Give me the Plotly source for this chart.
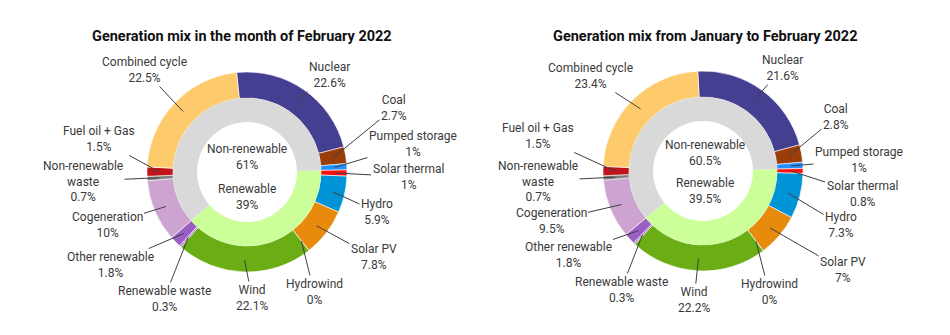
import math
import plotly.graph_objects as go

W, H = 950, 335

# ---------------- data ----------------
categories = ["Nuclear", "Coal", "Pumped storage", "Solar thermal", "Hydro", "Solar PV",
              "Hydrowind", "Wind", "Renewable waste", "Other renewable", "Cogeneration",
              "Non-renewable waste", "Fuel oil + Gas", "Combined cycle"]
label_text = ["Nuclear", "Coal", "Pumped storage", "Solar thermal", "Hydro", "Solar PV",
              "Hydrowind", "Wind", "Renewable waste", "Other renewable", "Cogeneration",
              "Non-renewable<br>waste", "Fuel oil + Gas", "Combined cycle"]
feb_values = [22.6, 2.7, 1, 1, 5.9, 7.8, 0, 22.1, 0.3, 1.8, 10, 0.7, 1.5, 22.5]
jan_feb_values = [21.6, 2.8, 1, 0.8, 7.3, 7, 0, 22.2, 0.3, 1.8, 9.5, 0.7, 1.5, 23.4]

group_labels = ["Renewable", "Non-renewable"]
feb_groups = [39, 61]
jan_feb_groups = [39.5, 60.5]

titles = ["Generation mix in the month of February 2022",
          "Generation mix from January to February 2022"]

# ---------------- styles ----------------
colors = ["#453f91", "#993d0b", "#1e90ff", "#ff1010", "#0093d6", "#e88a0c",
          "#33cccc", "#6aad14", "#b07ad6", "#9b5fc4", "#cda3cf",
          "#7f7f7f", "#c0141c", "#fdcb6b"]
group_colors = ["#ccff99", "#d9d9d9"]

FONT = "Roboto, sans-serif"
TXT = "#3a3a3a"

R_OUT, R_MID, R_HOLE, R_TIP = 100, 74, 50, 88

charts = [
    dict(cx=247, cy=172, rot=-6, values=feb_values, groups=feb_groups, title=titles[0],
         title_pos=(242, 36), center_pos=[(247, 197), (247, 157)],
         label_pos=[(329, 75), (394, 108), (413, 144), (408, 177), (377, 212), (374, 257),
                    (314, 292), (252, 298), (164, 299), (110, 265), (107, 225),
                    (83, 181), (99, 139), (144, 70)]),
    dict(cx=703, cy=171, rot=-3, values=jan_feb_values, groups=jan_feb_groups, title=titles[1],
         title_pos=(705, 36), center_pos=[(705, 191), (705, 153)],
         label_pos=[(782, 68), (836, 117), (859, 160), (862, 194), (841, 225), (843, 270),
                    (769, 292), (694, 300), (621, 290), (568, 255), (551, 221),
                    (538, 181), (538, 136), (590, 76)]),
]


def dom(cx, cy, r):
    return dict(x=[(cx - r) / W, (cx + r) / W], y=[1 - (cy + r) / H, 1 - (cy - r) / H])


fig = go.Figure()
annotations = []

for ch in charts:
    vals = ch["values"]
    total = sum(vals)
    fig.add_trace(go.Pie(
        labels=categories, values=vals, sort=False, direction="clockwise",
        rotation=ch["rot"], hole=R_MID / R_OUT, domain=dom(ch["cx"], ch["cy"], R_OUT),
        marker=dict(colors=colors, line=dict(color="white", width=0.6)),
        textinfo="none", hoverinfo="label+value", showlegend=False))
    # inner ring: renewable starts where the first renewable slice starts
    inner_rot = ch["rot"] + 360 * sum(vals[:3]) / total
    fig.add_trace(go.Pie(
        labels=group_labels, values=ch["groups"], sort=False, direction="clockwise",
        rotation=inner_rot, hole=R_HOLE / R_MID, domain=dom(ch["cx"], ch["cy"], R_MID),
        marker=dict(colors=group_colors, line=dict(color="white", width=0)),
        textinfo="none", hoverinfo="label+value", showlegend=False))

    cum = 0
    for i, v in enumerate(vals):
        a = math.radians(ch["rot"] + 360 * (cum + v / 2) / total)
        cum += v
        tx = ch["cx"] + R_TIP * math.sin(a)
        ty = ch["cy"] - R_TIP * math.cos(a)
        lx, ly = ch["label_pos"][i]
        annotations.append(dict(
            x=tx / W, y=1 - ty / H, xref="paper", yref="paper",
            ax=lx - tx, ay=ly - ty, axref="pixel", ayref="pixel",
            text=f"{label_text[i]}<br>{v:g}%", showarrow=True, arrowhead=0,
            arrowwidth=1, arrowcolor="#404040", standoff=0, startstandoff=0,
            font=dict(family=FONT, size=12, color=TXT), align="center"))

    for (px, py), gl, gv in zip(ch["center_pos"], group_labels, ch["groups"]):
        annotations.append(dict(
            x=px / W, y=1 - py / H, xref="paper", yref="paper", showarrow=False,
            text=f"{gl}<br>{gv:g}%", font=dict(family=FONT, size=12, color=TXT),
            xanchor="center", yanchor="middle", align="center"))

    tx, ty = ch["title_pos"]
    annotations.append(dict(
        x=tx / W, y=1 - ty / H, xref="paper", yref="paper", showarrow=False,
        text=f"<b>{ch['title']}</b>", font=dict(family=FONT, size=14.5, color="#111111"),
        xanchor="center", yanchor="middle"))

fig.update_layout(
    width=W, height=H, margin=dict(l=0, r=0, t=0, b=0),
    paper_bgcolor="white", plot_bgcolor="white",
    annotations=annotations, showlegend=False)

fig.write_html("out.html")
